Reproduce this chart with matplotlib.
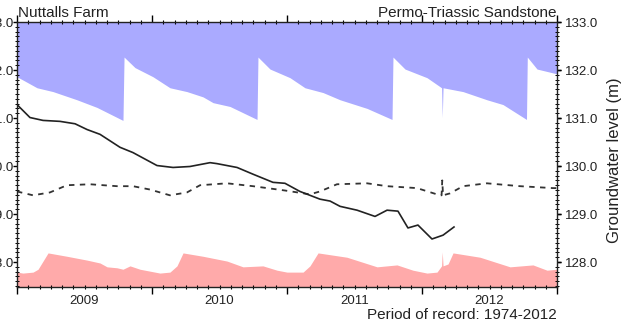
import matplotlib
matplotlib.use("Agg")
import matplotlib.pyplot as plt
from matplotlib.ticker import MultipleLocator, FixedLocator

plt.rcParams['font.family'] = ['Liberation Sans', 'DejaVu Sans']

# Maximum level envelope (lower edge of blue band)
max_t = [2009.000, 2009.148, 2009.267, 2009.444, 2009.593, 2009.785,
         2009.793, 2009.874, 2010.007, 2010.133, 2010.259, 2010.378, 2010.452, 2010.578, 2010.778,
         2010.785, 2010.874, 2011.022, 2011.133, 2011.267, 2011.393, 2011.593, 2011.778,
         2011.785, 2011.874, 2012.037, 2012.145, 2012.150, 2012.156, 2012.304, 2012.481, 2012.600, 2012.774,
         2012.780, 2012.852, 2012.970, 2013.000]
max_v = [131.86, 131.63, 131.55, 131.38, 131.22, 130.95,
         132.27, 132.05, 131.86, 131.63, 131.55, 131.44, 131.32, 131.24, 130.97,
         132.27, 132.02, 131.84, 131.63, 131.53, 131.38, 131.20, 130.97,
         132.27, 132.02, 131.84, 131.63, 131.01, 131.63, 131.55, 131.38, 131.28, 130.97,
         132.27, 132.02, 131.94, 131.92]

# Minimum level envelope (upper edge of red band)
min_t = [2009.000, 2009.044, 2009.119, 2009.156, 2009.230, 2009.370, 2009.519, 2009.615, 2009.667,
         2009.741, 2009.785, 2009.837, 2009.911, 2009.985, 2010.059, 2010.133, 2010.185, 2010.230,
         2010.378, 2010.556, 2010.674, 2010.822, 2010.926, 2011.000, 2011.119, 2011.170, 2011.230,
         2011.444, 2011.667, 2011.815, 2011.933, 2012.037, 2012.111, 2012.145, 2012.150, 2012.156,
         2012.193, 2012.230, 2012.430, 2012.652, 2012.822, 2012.926, 2013.000]
min_v = [127.79, 127.77, 127.79, 127.85, 128.19, 128.12, 128.04, 127.98, 127.90,
         127.88, 127.85, 127.92, 127.85, 127.81, 127.77, 127.79, 127.92, 128.19,
         128.12, 128.02, 127.90, 127.92, 127.83, 127.79, 127.79, 127.92, 128.19,
         128.10, 127.90, 127.94, 127.83, 127.77, 127.79, 127.92, 128.21, 127.92,
         127.96, 128.19, 128.10, 127.90, 127.94, 127.83, 127.85]

# Long-term average level (dashed)
avg_t = [2009.000, 2009.119, 2009.244, 2009.370, 2009.541, 2009.741, 2009.859, 2009.985,
         2010.133, 2010.259, 2010.356, 2010.556, 2010.748, 2010.985, 2011.170, 2011.244,
         2011.370, 2011.593, 2011.741, 2011.963, 2012.133, 2012.145, 2012.150, 2012.156,
         2012.207, 2012.304, 2012.481, 2012.726, 2012.970, 2013.000]
avg_v = [129.47, 129.39, 129.45, 129.60, 129.62, 129.58, 129.58, 129.51,
         129.39, 129.45, 129.60, 129.64, 129.58, 129.49, 129.41, 129.47,
         129.62, 129.64, 129.58, 129.54, 129.39, 129.39, 129.70, 129.39,
         129.43, 129.58, 129.64, 129.58, 129.54, 129.54]

# Observed groundwater level
obs_t = [2009.000, 2009.096, 2009.193, 2009.319, 2009.430, 2009.519, 2009.615, 2009.763,
         2009.859, 2010.037, 2010.156, 2010.281, 2010.430, 2010.481, 2010.630, 2010.748,
         2010.896, 2010.985, 2011.096, 2011.244, 2011.319, 2011.393, 2011.519, 2011.652,
         2011.741, 2011.822, 2011.896, 2011.970, 2012.074, 2012.156, 2012.237]
obs_v = [131.28, 131.01, 130.95, 130.93, 130.88, 130.76, 130.66, 130.39,
         130.28, 130.01, 129.97, 129.99, 130.07, 130.05, 129.97, 129.83,
         129.66, 129.64, 129.47, 129.31, 129.27, 129.16, 129.08, 128.95,
         129.08, 129.06, 128.71, 128.77, 128.48, 128.56, 128.73]

years = [2009, 2010, 2011, 2012]
y_ticks = [128.0, 129.0, 130.0, 131.0, 132.0, 133.0]
y_min, y_max = 127.48, 133.0

W, H = 634, 327
fig = plt.figure(figsize=(W / 100, H / 100), dpi=100)
ax = fig.add_axes([17 / W, 1 - 287 / H, (557 - 17) / W, (287 - 22) / H])

ax.fill_between(max_t, max_v, y_max, color='#aaaaff', lw=0)
ax.fill_between(min_t, y_min, min_v, color='#ffaaaa', lw=0)
ax.plot(avg_t, avg_v, color='#333333', lw=1.3, ls=(0, (3, 3)))
ax.plot(obs_t, obs_v, color='#222222', lw=1.2)

ax.set_xlim(years[0], years[-1] + 1)
ax.set_ylim(y_min, y_max)

ax.xaxis.set_major_locator(FixedLocator([y for y in range(years[0], years[-1] + 2)]))
ax.xaxis.set_minor_locator(MultipleLocator(1 / 12))
ax.set_xticklabels([])
ax.tick_params(axis='x', which='major', direction='out', length=5, width=1, top=True, bottom=True)
ax.tick_params(axis='x', which='minor', direction='inout', length=3, width=0.8, top=True, bottom=True)

sec = ax.secondary_xaxis('bottom')
sec.set_xticks([y + 0.5 for y in years])
sec.set_xticklabels([str(y) for y in years])
sec.tick_params(length=0, pad=6, labelsize=9.5, labelcolor='#222222')
sec.spines['bottom'].set_visible(False)

# Left axis (labels partly cut by the figure edge, as in the reference)
ax.set_yticks(y_ticks)
ax.set_yticklabels([f"{v:.1f}" for v in y_ticks])
ax.yaxis.set_minor_locator(MultipleLocator(0.1))
ax.tick_params(axis='y', which='major', direction='out', length=3, width=1, left=True, right=True,
               labelleft=True, labelright=False, labelsize=9.5, labelcolor='#222222', pad=-1)
ax.tick_params(axis='y', which='minor', direction='inout', length=2.5, width=0.7, left=True, right=True)

# Right axis labels
secy = ax.secondary_yaxis('right')
secy.set_yticks(y_ticks)
secy.set_yticklabels([f"{v:.1f}" for v in y_ticks])
secy.tick_params(length=3, width=1, pad=3, labelsize=9.5, labelcolor='#222222')
secy.spines['right'].set_visible(False)

for s in ax.spines.values():
    s.set_linewidth(1.0)
    s.set_color('#222222')

fig.text(18 / W, 1 - 13 / H, 'Nuttalls Farm', fontsize=11, ha='left', va='center', color='#222222')
fig.text(557 / W, 1 - 13 / H, 'Permo-Triassic Sandstone', fontsize=11, ha='right', va='center', color='#222222')
fig.text(557 / W, 1 - 315 / H, 'Period of record: 1974-2012', fontsize=11, ha='right', va='center', color='#222222')
fig.text(615 / W, 1 - 160 / H, 'Groundwater level (m)', fontsize=12, rotation=90, ha='center', va='center', color='#222222')

fig.savefig('out.png', dpi=100)
